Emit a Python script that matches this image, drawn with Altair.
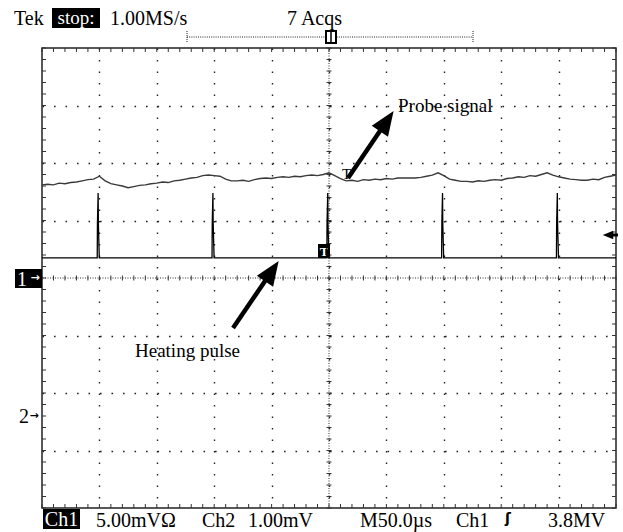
import altair as alt
import pandas as pd

# ---------------- data (time in microseconds, 50 us/div; vertical in divisions) ----------
probe_t = list(range(0, 505, 5))
probe_v = [1.62, 1.63, 1.62, 1.65, 1.64, 1.66, 1.67, 1.69, 1.71, 1.72,
           1.77, 1.69, 1.64, 1.62, 1.60, 1.57, 1.59, 1.61, 1.62, 1.64,
           1.65, 1.67, 1.66, 1.69, 1.70, 1.72, 1.74, 1.75, 1.78, 1.79,
           1.78, 1.77, 1.72, 1.69, 1.69, 1.70, 1.68, 1.71, 1.73, 1.74,
           1.73, 1.75, 1.76, 1.75, 1.77, 1.76, 1.78, 1.79, 1.78, 1.80,
           1.83, 1.78, 1.73, 1.69, 1.70, 1.68, 1.71, 1.70, 1.72, 1.71,
           1.73, 1.72, 1.74, 1.74, 1.74, 1.74, 1.75, 1.77, 1.79, 1.83,
           1.78, 1.72, 1.70, 1.68, 1.68, 1.67, 1.69, 1.68, 1.70, 1.71,
           1.70, 1.73, 1.74, 1.76, 1.75, 1.78, 1.77, 1.80, 1.83, 1.79,
           1.76, 1.74, 1.72, 1.71, 1.70, 1.70, 1.72, 1.71, 1.75, 1.77,
           1.79]

pulse_times = [49, 149, 249, 349, 449]
pulse_base = 0.35
pulse_shoulder = 0.96
pulse_peak = 1.48
pulse_shape_dt = [-0.9, -0.7, -0.1, 0.1, 0.9]

# annotations (data units)
ann_text = ["Probe signal", "Heating pulse"]
ann_t = [310.1, 81.0]
ann_v = [2.887, -1.374]
arrow_t0 = [266.6, 166.4]
arrow_v0 = [1.739, -0.870]
arrow_t1 = [300.3, 200.2]
arrow_v1 = [2.729, 0.120]

major_t = [50, 100, 150, 200, 250, 300, 350, 400, 450]
major_v = [-3, -2, -1, 1, 2, 3]
minor_t = [i * 10 for i in range(51)]
minor_v = [round(-4 + 0.2 * i, 2) for i in range(41)]

# ---------------- frames ----------------
probe_df = pd.DataFrame({"t": probe_t, "v": probe_v})
pt, pv = [0.0], [pulse_base]
for p in pulse_times:
    for dt, val in zip(pulse_shape_dt, [pulse_base, pulse_shoulder, pulse_peak, pulse_shoulder, pulse_base]):
        pt.append(p + dt)
        pv.append(val)
pt.append(500.0)
pv.append(pulse_base)
pulse_df = pd.DataFrame({"t": pt, "v": pv, "i": list(range(len(pt)))})
ann_df = pd.DataFrame({"t": ann_t, "v": ann_v, "text": ann_text})
arrow_df = pd.DataFrame({"t": arrow_t0, "v": arrow_v0, "t2": arrow_t1, "v2": arrow_v1})
mt_df = pd.DataFrame({"t": minor_t})
mv_df = pd.DataFrame({"v": minor_v})
one = pd.DataFrame({"k": [0]})

W, H = 574, 460
xs = alt.Scale(domain=[0, 500], nice=False, zero=False)
ys = alt.Scale(domain=[-4, 4], nice=False, zero=False)
xaxis = alt.Axis(values=major_t, grid=True, gridDash=[1.6, 9.9], gridColor="#222",
                 gridWidth=1.4, labels=False, ticks=False, domain=False, title="")
yaxis = alt.Axis(values=major_v, grid=True, gridDash=[1.6, 9.9], gridColor="#222",
                 gridWidth=1.4, labels=False, ticks=False, domain=False, title="")


def X(f="t"):
    return alt.X(f"{f}:Q", scale=xs, axis=xaxis)


def Y(f="v"):
    return alt.Y(f"{f}:Q", scale=ys, axis=yaxis)


SERIF = "Liberation Serif"


def label(s, x, y, size=20, color="black", font=SERIF, align="left",
          baseline="alphabetic", weight="normal"):
    return alt.Chart(one).mark_text(text=s, fontSize=size, color=color, font=font,
                                    align=align, baseline=baseline, fontWeight=weight
                                    ).encode(x=alt.value(x), y=alt.value(y))


def box(x1, x2, y1, y2, fill="black", stroke="black", sw=0):
    return alt.Chart(one).mark_rect(fill=fill, stroke=stroke, strokeWidth=sw
                                    ).encode(x=alt.value(x1), x2=alt.value(x2),
                                             y=alt.value(y1), y2=alt.value(y2))


def seg(x1, y1, x2, y2, width=1.0, color="#222", dash=None):
    kw = dict(color=color, strokeWidth=width)
    if dash is not None:
        kw["strokeDash"] = dash
    return alt.Chart(one).mark_rule(**kw).encode(
        x=alt.value(x1), y=alt.value(y1), x2=alt.value(x2), y2=alt.value(y2))


layers = []

# probe trace (carries the grid axes)
layers.append(alt.Chart(probe_df).mark_line(color="#3a3a3a", strokeWidth=1.4)
              .encode(x=X(), y=Y()))

# center cross lines (dense dotted)
layers.append(alt.Chart(pd.DataFrame({"t": [250]})).mark_rule(color="#333", strokeDash=[1, 1.5], strokeWidth=1)
              .encode(x=X()))
layers.append(alt.Chart(pd.DataFrame({"v": [0]})).mark_rule(color="#333", strokeDash=[1, 1.5], strokeWidth=1)
              .encode(y=Y()))

# minor ticks on frame edges and centre lines
tick_kw = dict(color="#333", strokeWidth=1)
layers.append(alt.Chart(mt_df).mark_rule(**tick_kw).encode(x=X(), y=alt.value(0), y2=alt.value(4)))
layers.append(alt.Chart(mt_df).mark_rule(**tick_kw).encode(x=X(), y=alt.value(H - 4), y2=alt.value(H)))
layers.append(alt.Chart(mt_df).mark_rule(**tick_kw).encode(x=X(), y=alt.value(H / 2 - 2.5), y2=alt.value(H / 2 + 2.5)))
layers.append(alt.Chart(mv_df).mark_rule(**tick_kw).encode(y=Y(), x=alt.value(0), x2=alt.value(4)))
layers.append(alt.Chart(mv_df).mark_rule(**tick_kw).encode(y=Y(), x=alt.value(W - 4), x2=alt.value(W)))
layers.append(alt.Chart(mv_df).mark_rule(**tick_kw).encode(y=Y(), x=alt.value(W / 2 - 2.5), x2=alt.value(W / 2 + 2.5)))

# trigger "T" box (behind pulse line)
layers.append(box(276, 288, 196, 210))
layers.append(label("T", 282, 208, size=13, color="white", align="center", weight="bold"))

# pulse trace
layers.append(alt.Chart(pulse_df).mark_line(color="black", strokeWidth=1.3)
              .encode(x=X(), y=Y(), order="i:Q"))

# arrows
layers.append(alt.Chart(arrow_df).mark_rule(color="black", strokeWidth=4.5)
              .encode(x=X(), y=Y(), x2="t2:Q", y2="v2:Q"))
layers.append(alt.Chart(arrow_df).mark_point(shape="M0,-1L0.8,1L-0.8,1Z", filled=True, size=600,
                                             angle=34, color="black", opacity=1)
              .encode(x=X("t2"), y=Y("v2")))
layers.append(alt.Chart(ann_df).mark_text(font=SERIF, fontSize=19, align="left",
                                          baseline="alphabetic", color="black")
              .encode(x=X(), y=Y(), text="text:N"))

# small T on probe trace
layers.append(label("T", 300, 131, size=15))

# channel markers
layers.append(box(-27, 0, 221, 240))
layers.append(label("1", -25, 238, size=20, color="white"))
layers.append(label("\u2192", -7, 230, size=11, color="white", font="DejaVu Sans",
                    align="center", baseline="middle", weight="bold"))
layers.append(label("2", -23, 375, size=20))
layers.append(label("\u2192", -8, 368, size=11, font="DejaVu Sans",
                    align="center", baseline="middle", weight="bold"))
# right-side level marker (solid left-pointing arrow)
layers.append(seg(568, 187, 576, 187, width=3, color="black"))
layers.append(alt.Chart(one).mark_point(shape="M-1,0L1,-0.8L1,0.8Z", filled=True, size=110,
                                        color="black", opacity=1)
              .encode(x=alt.value(566), y=alt.value(187)))

# header
layers.append(label("Tek", -28, -23))
layers.append(box(10, 58, -40, -20))
layers.append(label("stop:", 34, -24, size=19, color="white", align="center"))
layers.append(label("1.00MS/s", 68, -23))
layers.append(label("7 Acqs", 245, -23))
layers.append(seg(145, -11, 431, -11, width=1, dash=[1, 1.2]))
layers.append(seg(145, -17, 145, -5, width=1, dash=[1, 1]))
layers.append(seg(431, -17, 431, -5, width=1, dash=[1, 1]))
layers.append(box(284, 294, -17, -5, fill="white", stroke="black", sw=2))
layers.append(seg(289, -16, 289, -6, width=1.5, color="black"))

# footer
layers.append(box(1, 38, 461, 481))
layers.append(label("Ch1", 19.5, 478, size=20, color="white", align="center"))
layers.append(label("5.00mV\u03a9", 54, 479))
layers.append(label("Ch2", 160, 479))
layers.append(label("1.00mV", 206, 479))
layers.append(label("M50.0\u00b5s", 318, 479))
layers.append(label("Ch1", 414, 479))
layers.append(label("\u0283", 466, 475, size=14, font="DejaVu Sans", align="center", weight="bold"))
layers.append(label("3.8MV", 506, 479))

chart = alt.layer(*layers).properties(
    width=W, height=H,
    padding={"left": 42, "top": 48, "right": 7, "bottom": 24},
    autosize=alt.AutoSizeParams(type="none"),
).configure_view(stroke="#222", strokeWidth=1.5)

chart.save("out.html", embed_options={"renderer": "svg", "actions": False})
